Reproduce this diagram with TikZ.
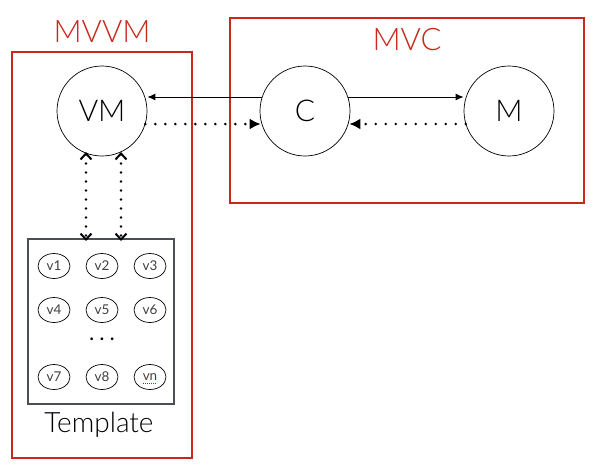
\documentclass[tikz,border=0pt]{standalone}
\usepackage{fontspec}
\setmainfont{Lato}[UprightFont={* Light}]
\newfontfamily\smallvfont{Lato}
\usetikzlibrary{arrows.meta,shapes.geometric}
\definecolor{boxred}{HTML}{C8281C}
\definecolor{tplgray}{HTML}{4A4F55}
\begin{document}
\begin{tikzpicture}[x=1pt,y=-1pt,
  redbox/.style={draw=boxred,line width=2.4pt},
  redlabel/.style={text=boxred,font=\fontsize{31}{31}\selectfont},
  bigcirc/.style={draw,circle,line width=0.7pt,minimum size=90pt,inner sep=0pt,font=\fontsize{30}{30}\selectfont},
  smallv/.style={draw,ellipse,line width=0.7pt,minimum width=32pt,minimum height=25pt,inner sep=0pt,font=\smallvfont\fontsize{13.5}{13.5}\selectfont,text=black!75},
  solidarrow/.style={-{Latex[length=8pt,width=7pt]},line width=1pt},
  dotarrow/.style={-{Latex[length=11pt,width=11pt]},line width=2.8pt,dash pattern=on 0pt off 10pt,line cap=round},
  vdot/.style={{Straight Barb[length=6pt,width=11pt,line width=2pt]}-{Straight Barb[length=6pt,width=11pt,line width=2pt]},line width=2.8pt,dash pattern=on 0pt off 9pt,line cap=round}
]
\useasboundingbox (0,0) rectangle (593,475);
% red boxes
\node[redbox,minimum width=180pt,minimum height=406pt,inner sep=0pt] (mvvmbox) at (102,255) {};
\node[redbox,minimum width=354pt,minimum height=185pt,inner sep=0pt] (mvcbox) at (407,110.5) {};
\node[redlabel] (mvvmlabel) at (102,32) {MVVM};
\node[redlabel] (mvclabel) at (407,40) {MVC};
% big circles
\node[bigcirc] (vm) at (102,111) {VM};
\node[bigcirc] (c) at (305,111) {C};
\node[bigcirc] (m) at (509,111) {M};
% template
\node[draw=tplgray,line width=1.3pt,minimum width=146pt,minimum height=165pt,inner sep=0pt] (tpl) at (101,321.5) {};
\node[font=\fontsize{28}{28}\selectfont] (tpllabel) at (99,425) {Template};
\node[smallv] (v1) at (54,266) {v1};
\node[smallv] (v2) at (102,266) {v2};
\node[smallv] (v3) at (150,266) {v3};
\node[smallv] (v4) at (54,310) {v4};
\node[smallv] (v5) at (102,310) {v5};
\node[smallv] (v6) at (150,310) {v6};
\node[smallv] (v7) at (54,377) {v7};
\node[smallv] (v8) at (102,377) {v8};
\node[smallv] (vn) at (150,377) {vn};
\node[font=\smallvfont\fontsize{18}{18}\selectfont\bfseries] (dots) at (102,339) {.\,\,.\,\,.};
\draw[red,line width=1pt,dash pattern=on 1pt off 1pt] ([xshift=-7pt,yshift=-6pt]vn.center) -- ([xshift=7pt,yshift=-6pt]vn.center);
% connectors
\draw[solidarrow] ([yshift=14pt,xshift=2pt]c.west) -- ([yshift=14pt]vm.east);
\draw[solidarrow] ([yshift=14pt,xshift=-2pt]c.east) -- ([yshift=14pt]m.west);
\draw[dotarrow] ([yshift=-13pt,xshift=-2pt]vm.east) -- ([yshift=-13pt,xshift=1pt]c.west);
\draw[dotarrow] ([yshift=-13pt,xshift=2pt]m.west) -- ([yshift=-13pt,xshift=-1pt]c.east);
\coordinate (t1) at (86,241);
\coordinate (t2) at (121,241);
\coordinate (s1) at (86,152);
\coordinate (s2) at (121,152);
\draw[vdot] (s1) -- (t1);
\draw[vdot] (s2) -- (t2);
\end{tikzpicture}
\end{document}
